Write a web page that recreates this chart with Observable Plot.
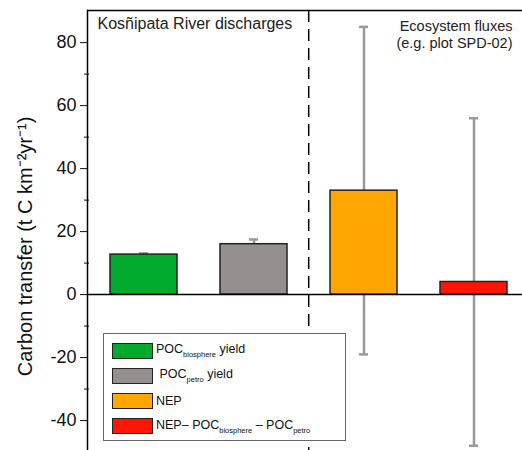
<!DOCTYPE html>
<html>
<head>
<meta charset="utf-8">
<script src="https://cdn.jsdelivr.net/npm/d3@7"></script>
<script src="https://cdn.jsdelivr.net/npm/@observablehq/plot@0.6"></script>
<style>
  body { margin: 0; background: #fff; font-family: "Liberation Sans", Arial, sans-serif; }
  #chart { position: relative; width: 522px; height: 450px; }
  #legend {
    position: absolute; left: 103px; top: 333px; width: 241px; height: 106px;
    border: 1.5px solid #666; background: #fff; font-size: 12.5px; color: #111;
  }
  .row { position: absolute; left: 8px; display: flex; align-items: center; }
  .sw { width: 39px; height: 14px; border: 1.3px solid #222; margin-right: 3px; }
  .row sub { font-size: 7.5px; vertical-align: -4px; }
</style>
</head>
<body>
<div id="chart"></div>
<script>
// categories, values and symmetric error (+/-)
const categories = ["POCbio", "POCpetro", "NEP", "NEPnet"];
const values = [12.7, 16.0, 33.0, 4.0];
const errors = [0.4, 1.5, 52, 52];
const colors = ["#00aa2c", "#968f8f", "#ffa600", "#ff1500"];
const legendLabels = [
  "POC<sub>biosphere</sub> yield",
  "&nbsp;POC<sub>petro</sub> yield",
  "NEP",
  "NEP– POC<sub>biosphere</sub> – POC<sub>petro</sub>"
];
const yTicks = [-40, -20, 0, 20, 40, 60, 80];
const yMinor = [-30, -10, 10, 30, 50, 70];
const yDomain = [-49.5, 90.2];
const yLabel = "Carbon transfer (t C km⁻²yr⁻¹)";

const data = categories.map((c, i) => ({
  cat: c, value: values[i], lo: values[i] - errors[i], hi: values[i] + errors[i], color: colors[i]
}));

const padIn = 0.395, padOut = 0.2, xRange = [87, 530];
const step = (xRange[1] - xRange[0]) / (categories.length - padIn + 2 * padOut);
const bw = step * (1 - padIn);
const capInset = (bw - 9) / 2;

const plot = Plot.plot({
  width: 522,
  height: 450,
  marginLeft: 87,
  marginRight: 0,
  marginTop: 10,
  marginBottom: 0,
  style: { fontFamily: "Liberation Sans, Arial, sans-serif", background: "#fff", color: "#111" },
  x: { type: "band", domain: categories, range: xRange, paddingInner: padIn, paddingOuter: padOut, axis: null },
  y: { domain: yDomain, axis: null },
  marks: [
    Plot.axisY(yTicks, { tickSize: 7, tickPadding: 4, fontSize: 18, tickFormat: d => String(d), label: null }),
    Plot.axisY(yMinor, { tickSize: 5, dx: 2, text: null, label: null }),
    Plot.text([yLabel], { frameAnchor: "left", textAnchor: "middle", dx: -62, dy: 16, rotate: -90, fontSize: 20, fill: "#111" }),
    Plot.ruleX(data, { x: "cat", y1: "lo", y2: "hi", stroke: "#999", strokeWidth: 2.5 }),
    Plot.tickY(data, { x: "cat", y: "hi", stroke: "#999", strokeWidth: 2.5, insetLeft: capInset, insetRight: capInset }),
    Plot.tickY(data, { x: "cat", y: "lo", stroke: "#999", strokeWidth: 2.5, insetLeft: capInset, insetRight: capInset }),
    Plot.barY(data, { x: "cat", y: "value", fill: "color", stroke: "#222", strokeWidth: 1.5 }),
    Plot.ruleY([0], { stroke: "#000", strokeWidth: 1.5 }),
    Plot.ruleY([yDomain[1]], { stroke: "#000", strokeWidth: 1.5 }),
    Plot.frame({ anchor: "left", stroke: "#000", strokeWidth: 1.5 }),
    Plot.ruleX([categories[2]], { dx: -step / 2, stroke: "#000", strokeWidth: 1.5, strokeDasharray: "12,7" }),
    Plot.text(["Kosñipata River discharges"], { frameAnchor: "top-left", dx: 10, dy: 7, fontSize: 16, textAnchor: "start", lineAnchor: "top", fill: "#222" }),
    Plot.text(["Ecosystem fluxes\n(e.g. plot SPD-02)"], { frameAnchor: "top-right", dx: -10, dy: 8, fontSize: 14.5, textAnchor: "end", lineAnchor: "top", lineHeight: 1.2, fill: "#222" })
  ]
});

const div = document.querySelector("#chart");
div.append(plot);

// legend box inside the plot area
const legend = document.createElement("div");
legend.id = "legend";
legendLabels.forEach((lab, i) => {
  const row = document.createElement("div");
  row.className = "row";
  row.style.top = (8 + i * 25.3) + "px";
  row.innerHTML = `<div class="sw" style="background:${colors[i]}"></div><span>${lab}</span>`;
  legend.append(row);
});
div.append(legend);
</script>
</body>
</html>
